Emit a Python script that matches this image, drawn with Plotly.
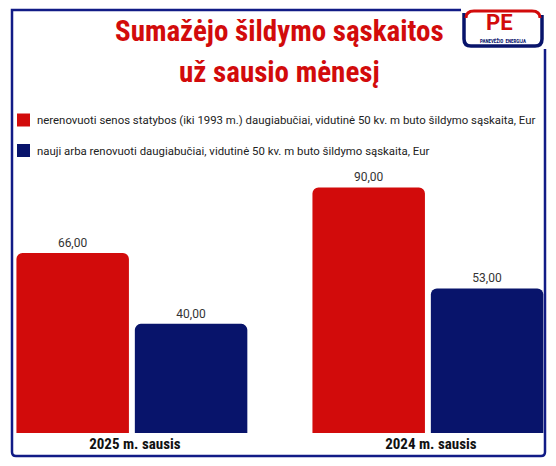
import plotly.graph_objects as go

categories = ["2025 m. sausis", "2024 m. sausis"]
series_names = [
    "nerenovuoti senos statybos (iki 1993 m.) daugiabučiai, vidutinė 50 kv. m buto šildymo sąskaita, Eur",
    "nauji arba renovuoti daugiabučiai, vidutinė 50 kv. m buto šildymo sąskaita, Eur",
]
old_values = [66.00, 90.00]
new_values = [40.00, 53.00]
title_lines = ["Sumažėjo šildymo sąskaitos", "už sausio mėnesį"]

RED = "#d20b0b"
NAVY = "#08146b"
FRAME = "#111b86"
COND = "Roboto Condensed, Roboto, sans-serif"

W, H = 556, 466
L, R, T, B = 12, 10, 170, 33
PW, PH = W - L - R, H - T - B


def px(x):
    return (x - L) / PW


def py(y):
    return (H - B - y) / PH


def fmt(v):
    return f"{v:.2f}".replace(".", ",")


fig = go.Figure()
for name, vals, col in [(series_names[0], old_values, RED), (series_names[1], new_values, NAVY)]:
    fig.add_trace(go.Bar(
        x=categories, y=vals, name=name, marker_color=col,
        marker_line_width=0,
        text=[fmt(v) for v in vals], textposition="outside",
        textfont=dict(family="Roboto", size=12, color="#333333"),
        cliponaxis=False, showlegend=False,
    ))

shapes = []
# frame
frame_path = (f"M {px(461)},{py(10)} L {px(12)},{py(10)} L {px(12)},{py(452)} "
              f"Q {px(12)},{py(456)} {px(16)},{py(456)} L {px(541)},{py(456)} "
              f"Q {px(545)},{py(456)} {px(545)},{py(452)} L {px(545)},{py(49)}")
shapes.append(dict(type="path", xref="paper", yref="paper", path=frame_path,
                   line=dict(color=FRAME, width=2.5)))
# logo U shape
logo_path = (f"M {px(464)},{py(13)} L {px(464)},{py(39)} Q {px(464)},{py(46)} {px(471)},{py(46)} "
             f"L {px(535)},{py(46)} Q {px(542)},{py(46)} {px(542)},{py(39)} L {px(542)},{py(15)}")
shapes.append(dict(type="path", xref="paper", yref="paper", path=logo_path,
                   line=dict(color=NAVY, width=3.5)))
logo_top = (f"M {px(466)},{py(18)} Q {px(466)},{py(11)} {px(474)},{py(11)} L {px(532)},{py(11)} "
            f"Q {px(540)},{py(11)} {px(540)},{py(18)}")
shapes.append(dict(type="path", xref="paper", yref="paper", path=logo_top,
                   line=dict(color=RED, width=3)))

# legend squares
for cy, col in [(120, RED), (150.5, NAVY)]:
    shapes.append(dict(type="rect", xref="paper", yref="paper",
                       x0=px(17), x1=px(30), y0=py(cy - 6.5), y1=py(cy + 6.5),
                       fillcolor=col, line=dict(width=0)))

annotations = []
for i, (line, cy) in enumerate(zip(title_lines, [31, 72])):
    annotations.append(dict(text=f"<b>{line}</b>", xref="paper", yref="paper",
                            x=px(279), y=py(cy), xanchor="center", yanchor="middle",
                            showarrow=False, font=dict(family=COND, size=29, color=RED)))
for name, cy in zip(series_names, [120, 150.5]):
    annotations.append(dict(text=name, xref="paper", yref="paper", x=px(35), y=py(cy),
                            xanchor="left", yanchor="middle", showarrow=False,
                            font=dict(family="Roboto", size=11.4, color="#222222")))
annotations.append(dict(text="<b>PE</b>", xref="paper", yref="paper", x=px(499), y=py(22),
                        xanchor="center", yanchor="middle", showarrow=False,
                        font=dict(family="Roboto", size=22, color=RED)))
annotations.append(dict(text="<b>PANEVĖŽIO  ENERGIJA</b>", xref="paper", yref="paper", x=px(503), y=py(40),
                        xanchor="center", yanchor="middle", showarrow=False,
                        font=dict(family=COND, size=5, color=NAVY)))

fig.update_layout(
    width=W, height=H,
    margin=dict(l=L, r=R, t=T, b=B),
    paper_bgcolor="white", plot_bgcolor="white",
    barmode="group", bargap=0.2, bargroupgap=0.05,
    barcornerradius=6,
    xaxis=dict(type="category", range=[-0.405, 1.399], showgrid=False, zeroline=False,
               showline=False, ticks="", ticklabelshift=3,
               tickfont=dict(family=COND, size=15, color="#111111", weight="bold")),
    yaxis=dict(range=[0, 96.4], visible=False),
    shapes=shapes, annotations=annotations,
    showlegend=False,
)

fig.write_html("out.html")
